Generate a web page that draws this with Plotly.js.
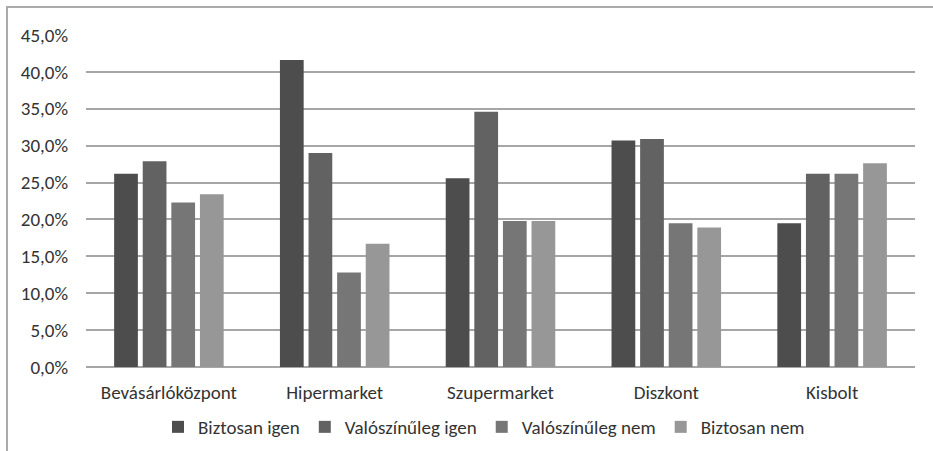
<!DOCTYPE html>
<html>
<head>
<meta charset="utf-8">
<script src="https://cdn.plot.ly/plotly-3.0.1.min.js"></script>
<style>html,body{margin:0;padding:0;background:#fff;}#chart{width:933px;height:451px;}</style>
</head>
<body>
<div id="chart"></div>
<script>
var categories = ["Bevásárlóközpont", "Hipermarket", "Szupermarket", "Diszkont", "Kisbolt"];
var seriesNames = ["Biztosan igen", "Valószínűleg igen", "Valószínűleg nem", "Biztosan nem"];
var biztosanIgen = [26.2, 41.6, 25.6, 30.7, 19.5];
var valoszinulegIgen = [27.9, 29.0, 34.6, 30.9, 26.2];
var valoszinulegNem = [22.3, 12.8, 19.8, 19.5, 26.2];
var biztosanNem = [23.4, 16.7, 19.8, 18.9, 27.6];
var yTicks = [0, 5, 10, 15, 20, 25, 30, 35, 40, 45];
var yTickLabels = ["0,0%", "5,0%", "10,0%", "15,0%", "20,0%", "25,0%", "30,0%", "35,0%", "40,0%", "45,0%"];

var colors = ["#4d4d4d", "#626262", "#767676", "#979797"];
var values = [biztosanIgen, valoszinulegIgen, valoszinulegNem, biztosanNem];
var fontFam = "Carlito, 'Liberation Sans Narrow', 'Open Sans', sans-serif";
var textColor = "#333333";

var data = values.map(function (v, i) {
  return {
    type: "bar",
    name: seriesNames[i],
    x: categories,
    y: v,
    marker: { color: colors[i] },
    hoverinfo: "x+y+name"
  };
});

var L = 86, R = 915, T = 35, B = 367, W = 933, H = 451;
var pw = R - L, ph = B - T;
function px(x) { return (x - L) / pw; }
function py(y) { return (B - y) / ph; }

var layout = {
  width: W,
  height: H,
  margin: { l: L, r: W - R, t: T, b: H - B, autoexpand: false },
  paper_bgcolor: "#ffffff",
  plot_bgcolor: "#ffffff",
  separators: ",.",
  barmode: "group",
  bargap: 0.31,
  bargroupgap: 0.17,
  font: { family: fontFam, size: 19, color: textColor },
  xaxis: {
    type: "category",
    automargin: false,
    showgrid: false,
    zeroline: false,
    showline: false,
    ticks: "",
    tickfont: { family: fontFam, size: 19, color: textColor },
    ticklabelstandoff: 12
  },
  yaxis: {
    automargin: false,
    range: [0, 45],
    tickvals: yTicks,
    ticktext: yTickLabels,
    showgrid: true,
    gridcolor: "#a6a6a6",
    gridwidth: 2,
    zeroline: true,
    zerolinecolor: "#a6a6a6",
    zerolinewidth: 2,
    showline: false,
    ticks: "",
    ticklabelstandoff: 17,
    tickfont: { family: fontFam, size: 19, color: textColor }
  },
  showlegend: true,
  legend: {
    orientation: "h",
    xref: "container",
    yref: "container",
    x: 158 / W,
    xanchor: "left",
    y: 1 - 427 / H,
    yanchor: "middle",
    font: { family: fontFam, size: 19, color: textColor },
    itemwidth: 30,
    traceorder: "normal"
  },
  shapes: [
    {
      type: "path",
      xref: "paper",
      yref: "paper",
      path: "M " + px(7) + " " + py(460) + " L " + px(7) + " " + py(7) + " L " + px(940) + " " + py(7),
      line: { color: "#ababab", width: 2 }
    }
  ]
};

Plotly.newPlot("chart", data, layout, { displayModeBar: false, staticPlot: true });
</script>
</body>
</html>
